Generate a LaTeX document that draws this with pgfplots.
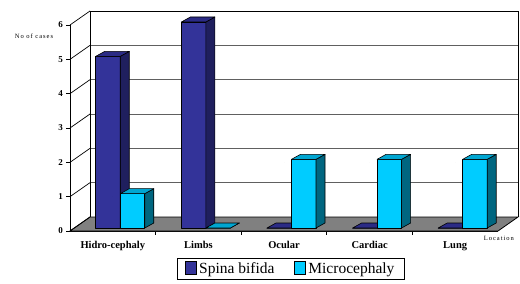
\documentclass[border=0pt]{standalone}
\usepackage{fontspec}
\setmainfont{Liberation Serif}
\usepackage{pgfplots}
\pgfplotsset{compat=1.18}

\definecolor{spF}{HTML}{333399}
\definecolor{spS}{HTML}{1F1F5E}
\definecolor{spT}{HTML}{2B2B85}
\definecolor{miF}{HTML}{00CCFF}
\definecolor{miS}{HTML}{006680}
\definecolor{miT}{HTML}{00A6D2}
\definecolor{floorc}{HTML}{808080}
\definecolor{gridc}{HTML}{606060}

\pgfplotsset{
  bar3d/.style n args={4}{
    scatter, only marks, mark=*, mark size=0pt,
    mark options={draw=none, fill=none},
    point meta=y,
    visualization depends on=value \thisrow{v}\as\rawv,
    scatter/@pre marker code/.code={%
      \begingroup\pgfkeys{/pgf/fpu=false}%
      \pgfmathsetmacro\barh{\rawv*34.3333}%
      \pgfmathsetmacro\barb{3-\rawv*34.3333}%
      \global\let\barhG\barh\global\let\barbG\barb\endgroup
      \begin{scope}[line width=0.6pt, line join=round, draw=black]
        \filldraw[fill=#2] (#1pt+7.5pt,\barbG pt) rectangle ++(24.5pt,\barhG pt);
        \filldraw[fill=#3] (#1pt+32pt,\barbG pt) -- ++(9pt,5pt) -- ++(0pt,\barhG pt) -- ++(-9pt,-5pt) -- cycle;
        \filldraw[fill=#4] (#1pt+7.5pt,3pt) -- ++(24.5pt,0pt) -- ++(9pt,5pt) -- ++(-24.5pt,0pt) -- cycle;
      \end{scope}
      \begin{scope}
    },
    scatter/@post marker code/.code={\end{scope}},
  },
}

\begin{document}
\begin{tikzpicture}
\path[use as bounding box] (-70pt,-53pt) rectangle (450pt,231pt);
\begin{axis}[
  x=85.6pt, y=34.3333pt,
  xmin=-0.5, xmax=4.5, ymin=0, ymax=6,
  axis x line*=bottom, axis y line*=left,
  axis line style={black, line width=0.8pt},
  clip=false,
  tick align=outside,
  major tick length=3.5pt,
  tick style={black, line width=0.8pt},
  ytick={0,...,6},
  xtick={0.5,1.5,2.5,3.5}, xticklabels={},
  extra x ticks={0,1,2,3,4},
  extra x tick labels={Hidro-cephaly,Limbs,Ocular,Cardiac,Lung},
  extra x tick style={major tick length=0pt, tick style={draw=none}},
  /pgf/number format/assume math mode=true,
  yticklabel style={font=\bfseries\fontsize{9}{10}\selectfont},
  xticklabel style={font=\bfseries\fontsize{10.5}{12}\selectfont, yshift=-7pt},
  ylabel={No of cases},
  ylabel style={rotate=-90, at={(rel axis cs:-0.084,0.947)}, anchor=center,
    font=\fontsize{6.5}{7}\selectfont\addfontfeature{LetterSpace=15}},
  xlabel={Location},
  xlabel style={at={(rel axis cs:1.002,-0.034)}, anchor=center,
    font=\fontsize{6.5}{7}\selectfont\addfontfeature{LetterSpace=15}},
  legend columns=2,
  legend style={at={(0.516,-0.184)}, anchor=center, draw=black, line width=1.2pt,
    font=\fontsize{15.5}{17}\selectfont, inner xsep=8pt, inner ysep=2pt,
    /tikz/every even column/.append style={column sep=18pt}},
]
% floor
\filldraw[fill=floorc, draw=black, line width=0.8pt]
  (axis cs:-0.5,0) -- (axis cs:4.5,0) -- ([shift={(20pt,14pt)}]axis cs:4.5,0)
  -- ([shift={(20pt,14pt)}]axis cs:-0.5,0) -- cycle;
% back wall grid
\pgfplotsinvokeforeach{1,...,5}{
  \draw[gridc, line width=0.8pt] ([shift={(20pt,14pt)}]axis cs:-0.5,#1) -- ([shift={(20pt,14pt)}]axis cs:4.5,#1);
}
\pgfplotsinvokeforeach{0,...,6}{
  \draw[black, line width=0.7pt] (axis cs:-0.5,#1) -- ([shift={(20pt,14pt)}]axis cs:-0.5,#1);
}
\draw[black, line width=0.8pt] ([shift={(20pt,14pt)}]axis cs:-0.5,0) -- ([shift={(20pt,14pt)}]axis cs:-0.5,6)
  -- ([shift={(20pt,14pt)}]axis cs:4.5,6) -- ([shift={(20pt,14pt)}]axis cs:4.5,0);

\addplot[bar3d={-24.5}{spF}{spS}{spT},
  legend image code/.code={\draw[fill=spF, draw=black, line width=0.9pt] (0pt,-6pt) rectangle (11pt,7pt);}]
  table[row sep=\\, x=x, y=v] {x v\\ 0 5\\ 1 6\\ 2 0\\ 3 0\\ 4 0\\};
\addlegendentry{Spina bifida}
\addplot[bar3d={0}{miF}{miS}{miT},
  legend image code/.code={\draw[fill=miF, draw=black, line width=0.9pt] (0pt,-6pt) rectangle (11pt,7pt);}]
  table[row sep=\\, x=x, y=v] {x v\\ 0 1\\ 1 0\\ 2 2\\ 3 2\\ 4 2\\};
\addlegendentry{Microcephaly}
\end{axis}
\end{tikzpicture}
\end{document}
